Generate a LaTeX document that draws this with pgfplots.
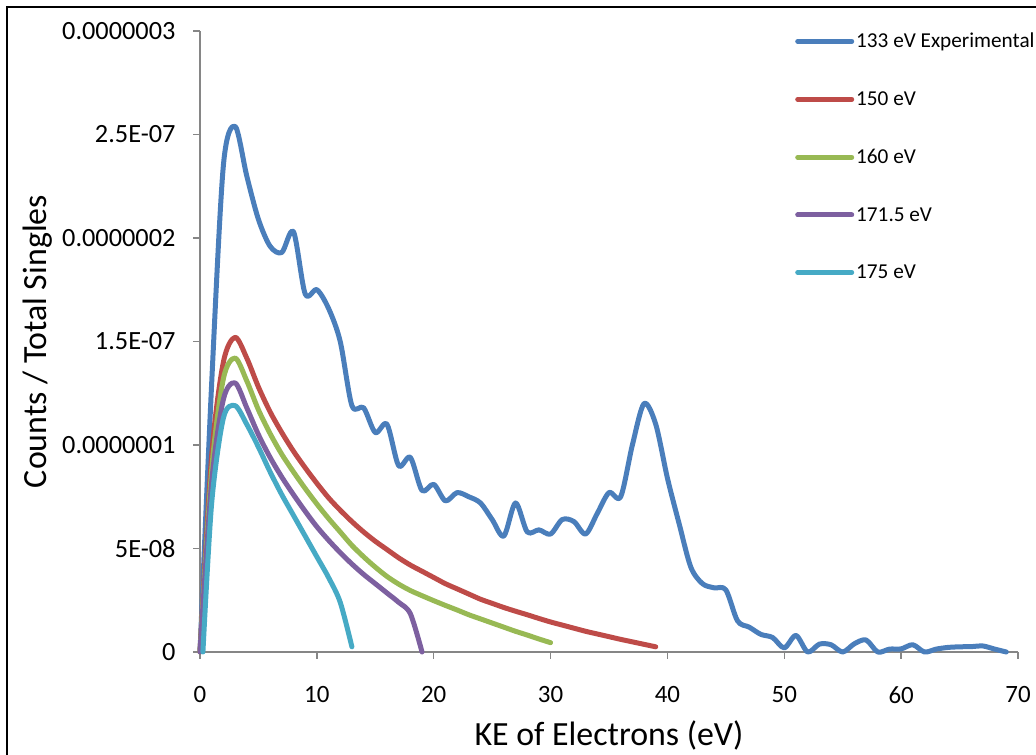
\documentclass[border=0pt]{standalone}
\usepackage{pgfplots}
\pgfplotsset{compat=1.18}
\usepackage{fontspec}
\setmainfont{Carlito}
\definecolor{cblue}{HTML}{4A7EBB}
\definecolor{cred}{HTML}{BE4B48}
\definecolor{cgreen}{HTML}{98B954}
\definecolor{cpurple}{HTML}{7D60A0}
\definecolor{ccyan}{HTML}{46AAC5}
\definecolor{axgray}{HTML}{868686}
\begin{document}
\begin{tikzpicture}[x=1bp,y=1bp]
\useasboundingbox (0,0) rectangle (1036,755);
\draw[black, line width=2bp] (7,0) -- (7,748) -- (1036,748);
\begin{axis}[
  at={(200bp,103bp)}, anchor=south west,
  scale only axis, width=818bp, height=621bp,
  xmin=0, xmax=70, ymin=0, ymax=3e-7,
  clip=false,
  axis x line*=bottom, axis y line*=left,
  axis line style={axgray, line width=1.5bp},
  xtick={0,10,...,70},
  ytick={0,5e-8,1e-7,1.5e-7,2e-7,2.5e-7,3e-7},
  yticklabels={0,5E-08,0.0000001,1.5E-07,0.0000002,2.5E-07,0.0000003},
  scaled y ticks=false,
  /pgf/number format/assume math mode=true,
  tick align=outside, major tick length=7bp,
  tick style={axgray, line width=1.5bp},
  xticklabel style={font=\fontsize{25}{30}\selectfont, black, yshift=-24bp},
  yticklabel style={font=\fontsize{26.4}{30}\selectfont, black, xshift=-14bp},
  xlabel={KE of Electrons (eV)},
  ylabel={Counts / Total Singles},
  label style={font=\fontsize{34}{40}\selectfont},
  xlabel style={at={(axis description cs:0.5,-0.1337)}, anchor=center},
  ylabel style={at={(axis description cs:-0.198,0.5)}, anchor=center, rotate=0},
  legend style={at={(rel axis cs:0.7274,1.0)}, anchor=north west, draw=none, fill=none,
    font=\fontsize{21.3}{25}\selectfont, row sep=38.3bp, inner sep=0pt,
    nodes={inner sep=2bp}},
  legend cell align=left,
  legend image code/.code={\draw[#1] (0bp,0bp) -- (54bp,0bp);},
  every axis plot/.append style={line width=5bp, line cap=round, line join=round, smooth, tension=0.5},
]
\addplot[cblue] table {
x y
0 0
1 13.0e-8
2 23.5e-8
3 25.4e-8
4 23.0e-8
5 20.9e-8
6 19.6e-8
7 19.3e-8
8 20.3e-8
9 17.3e-8
10 17.5e-8
11 16.6e-8
12 15.0e-8
13 11.9e-8
14 11.8e-8
15 10.6e-8
16 11.0e-8
17 9.0e-8
18 9.4e-8
19 7.8e-8
20 8.1e-8
21 7.3e-8
22 7.7e-8
23 7.5e-8
24 7.2e-8
25 6.4e-8
26 5.6e-8
27 7.2e-8
28 5.8e-8
29 5.9e-8
30 5.7e-8
31 6.4e-8
32 6.3e-8
33 5.7e-8
34 6.7e-8
35 7.7e-8
36 7.5e-8
37 10.0e-8
38 12.0e-8
39 11.0e-8
40 8.4e-8
41 6.2e-8
42 4.1e-8
43 3.3e-8
44 3.1e-8
45 3.0e-8
46 1.5e-8
47 1.2e-8
48 0.85e-8
49 0.7e-8
50 0.2e-8
51 0.8e-8
52 0
53 0.38e-8
54 0.35e-8
55 0
56 0.4e-8
57 0.58e-8
58 0
59 0.14e-8
60 0.15e-8
61 0.35e-8
62 0
63 0.14e-8
64 0.22e-8
65 0.25e-8
66 0.26e-8
67 0.29e-8
68 0.14e-8
69 0
};
\addlegendentry{133 eV Experimental}
\addplot[cred] table {
x y
0 0
1 9.5e-8
2 14.0e-8
3 15.2e-8
4 14.2e-8
5 12.8e-8
6 11.6e-8
7 10.6e-8
8 9.7e-8
9 8.9e-8
10 8.15e-8
11 7.45e-8
12 6.85e-8
13 6.3e-8
14 5.8e-8
15 5.35e-8
16 4.95e-8
17 4.55e-8
18 4.2e-8
19 3.9e-8
20 3.6e-8
21 3.3e-8
22 3.05e-8
23 2.8e-8
24 2.55e-8
25 2.35e-8
26 2.15e-8
27 1.97e-8
28 1.8e-8
29 1.62e-8
30 1.45e-8
31 1.3e-8
32 1.15e-8
33 1.0e-8
34 0.87e-8
35 0.74e-8
36 0.61e-8
37 0.49e-8
38 0.37e-8
39 0.25e-8
};
\addlegendentry{150 eV}
\addplot[cgreen] table {
x y
0 0
1 8.8e-8
2 13.2e-8
3 14.2e-8
4 13.1e-8
5 11.7e-8
6 10.55e-8
7 9.55e-8
8 8.7e-8
9 7.9e-8
10 7.15e-8
11 6.45e-8
12 5.8e-8
13 5.15e-8
14 4.6e-8
15 4.1e-8
16 3.65e-8
17 3.28e-8
18 2.97e-8
19 2.72e-8
20 2.48e-8
21 2.25e-8
22 2.03e-8
23 1.8e-8
24 1.6e-8
25 1.4e-8
26 1.2e-8
27 1.0e-8
28 0.82e-8
29 0.63e-8
30 0.45e-8
};
\addlegendentry{160 eV}
\addplot[cpurple] table {
x y
0 0
1 8.2e-8
2 12.2e-8
3 13.0e-8
4 11.8e-8
5 10.5e-8
6 9.4e-8
7 8.45e-8
8 7.6e-8
9 6.8e-8
10 6.05e-8
11 5.4e-8
12 4.8e-8
13 4.25e-8
14 3.75e-8
15 3.3e-8
16 2.85e-8
17 2.4e-8
18 1.85e-8
19 0
};
\addlegendentry{171.5 eV}
\addplot[ccyan] table {
x y
0.25 0
1 7.2e-8
2 11.3e-8
3 11.9e-8
4 11.0e-8
5 9.9e-8
6 8.7e-8
7 7.6e-8
8 6.6e-8
9 5.6e-8
10 4.6e-8
11 3.6e-8
12 2.4e-8
13 0.25e-8
};
\addlegendentry{175 eV}
\end{axis}
\end{tikzpicture}
\end{document}
